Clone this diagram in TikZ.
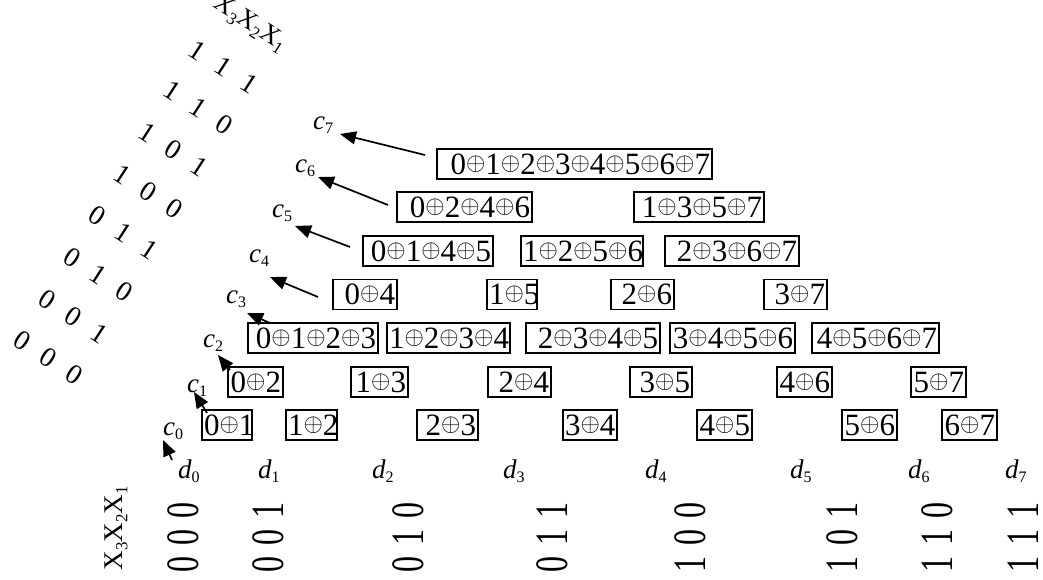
\documentclass[tikz,border=0pt]{standalone}
\usepackage{fontspec}
\setmainfont{Liberation Serif}
\usepackage{graphicx}
\usetikzlibrary{arrows.meta}
\newcommand\xo{\raisebox{3.8pt}{\fontsize{27}{27}\selectfont$\oplus$}}
\newcommand\cl[1]{{\itshape c}\raisebox{-4pt}{\fontsize{16}{16}\selectfont #1}}
\newcommand\dl[1]{{\itshape d}\raisebox{-4pt}{\fontsize{16}{16}\selectfont #1}}
\newcommand\xl[1]{X\raisebox{-5pt}{\fontsize{17}{17}\selectfont #1}}
\newcommand\tri[3]{#1\hspace{17pt}#2\hspace{17pt}#3}
\newcommand\col[3]{\scalebox{1}[1.45]{#1\hspace{11pt}#2\hspace{11pt}#3}}
\newcommand\bxn[5]{\pgfmathsetmacro\tw{#3-#2-4}\node[bx,text width=\tw pt] (#1) at (#2,#4) {#5};}
\tikzset{
  bx/.style={draw, line width=1.1pt, inner xsep=2pt, inner ysep=0pt, outer sep=0pt,
    minimum height=30pt, anchor=west, align=right, font=\fontsize{31}{31}\selectfont},
  arr/.style={line width=1.7pt, -{Triangle[length=16pt,width=13pt]}},
  lab/.style={anchor=base west, inner sep=0pt, font=\fontsize{27}{27}\selectfont},
  diag/.style={rotate=-33, inner sep=0pt, font=\fontsize{28}{28}\selectfont},
  colm/.style={rotate=90, inner sep=0pt, font=\fontsize{32}{32}\selectfont}
}
\begin{document}
\begin{tikzpicture}[x=1pt,y=-1pt]
\useasboundingbox (0,0) rectangle (1043,580);
% boxes row 1
\bxn{a01}{202}{252}{425}{0\xo1}
\bxn{a12}{286}{337}{425}{1\xo2}
\bxn{a23}{417}{478}{425}{2\xo3}
\bxn{a34}{563}{617}{425}{3\xo4}
\bxn{a45}{697}{752}{425}{4\xo5}
\bxn{a56}{842}{897}{425}{5\xo6}
\bxn{a67}{942}{997}{425}{6\xo7}
% row 2
\bxn{b02}{228}{283}{382}{0\xo2}
\bxn{b13}{351}{408}{382}{1\xo3}
\bxn{b24}{488}{551}{382}{2\xo4}
\bxn{b35}{630}{692}{382}{3\xo5}
\bxn{b46}{777}{832}{382}{4\xo6}
\bxn{b57}{911}{966}{382}{5\xo7}
% row 3
\bxn{e0}{248}{378}{338}{0\xo1\xo2\xo3}
\bxn{e1}{387}{510}{338}{1\xo2\xo3\xo4}
\bxn{e2}{526}{660}{338}{2\xo3\xo4\xo5}
\bxn{e3}{670}{795}{338}{3\xo4\xo5\xo6}
\bxn{e4}{812}{939}{338}{4\xo5\xo6\xo7}
% row 4
\bxn{f0}{333}{397}{294.5}{0\xo4}
\bxn{f1}{487}{537}{294.5}{1\xo5}
\bxn{f2}{611}{674}{294.5}{2\xo6}
\bxn{f3}{764}{827}{294.5}{3\xo7}
% row 5
\bxn{g0}{363}{493}{251}{0\xo1\xo4\xo5}
\bxn{g1}{521}{643}{251}{1\xo2\xo5\xo6}
\bxn{g2}{665}{799}{251}{2\xo3\xo6\xo7}
% row 6
\bxn{k0}{397}{532}{207}{0\xo2\xo4\xo6}
\bxn{k1}{634}{764}{207}{1\xo3\xo5\xo7}
% row 7
\bxn{m0}{437}{712}{164}{0\xo1\xo2\xo3\xo4\xo5\xo6\xo7}
% c labels
\node[lab] (c0) at (163,435) {\cl{0}};
\node[lab] (c1) at (187,392) {\cl{1}};
\node[lab] (c2) at (203,347) {\cl{2}};
\node[lab] (c3) at (226,303) {\cl{3}};
\node[lab] (c4) at (249,262) {\cl{4}};
\node[lab] (c5) at (272,217) {\cl{5}};
\node[lab] (c6) at (295,173) {\cl{6}};
\node[lab] (c7) at (313,130) {\cl{7}};
% arrows
\coordinate (t0) at (172,460); \coordinate (h0) at (163,440);
\coordinate (t1) at (207,413); \coordinate (h1) at (194,392);
\coordinate (t2) at (230,370); \coordinate (h2) at (218,355);
\coordinate (t3) at (270,323); \coordinate (h3) at (247,313);
\coordinate (t4) at (318,297); \coordinate (h4) at (270,277);
\coordinate (t5) at (350,247); \coordinate (h5) at (295,226);
\coordinate (t6) at (388,205); \coordinate (h6) at (318,177);
\coordinate (t7) at (425,155); \coordinate (h7) at (340,134);
\foreach \i in {0,...,7} {\draw[arr] (t\i) -- (h\i);}
% d labels
\node[lab] (d0) at (178,478) {\dl{0}};
\node[lab] (d1) at (258,478) {\dl{1}};
\node[lab] (d2) at (372,478) {\dl{2}};
\node[lab] (d3) at (503,478) {\dl{3}};
\node[lab] (d4) at (645,478) {\dl{4}};
\node[lab] (d5) at (790,478) {\dl{5}};
\node[lab] (d6) at (908,478) {\dl{6}};
\node[lab] (d7) at (1005,478) {\dl{7}};
% bottom binary columns
\node[colm] (v0) at (183,537) {\col000};
\node[colm] (v1) at (268,537) {\col001};
\node[colm] (v2) at (408,537) {\col010};
\node[colm] (v3) at (552,537) {\col011};
\node[colm] (v4) at (690,537) {\col100};
\node[colm] (v5) at (842,537) {\col101};
\node[colm] (v6) at (937,537) {\col110};
\node[colm] (v7) at (1023,537) {\col111};
\node[rotate=90, inner sep=0pt, font=\fontsize{27}{27}\selectfont] (vx) at (116,528) {\xl{3}\xl{2}\xl{1}};
% diagonal rows
\node[diag] (r7) at (223,67) {\tri111};
\node[diag] (r6) at (198,108) {\tri110};
\node[diag] (r5) at (173,150) {\tri101};
\node[diag] (r4) at (148,192) {\tri100};
\node[diag] (r3) at (123,233) {\tri011};
\node[diag] (r2) at (98,275) {\tri010};
\node[diag] (r1) at (73,317) {\tri001};
\node[diag] (r0) at (48,358) {\tri000};
\node[diag, font=\fontsize{26}{26}\selectfont] (rx) at (250,24) {\xl{3}\xl{2}\xl{1}};
\end{tikzpicture}
\end{document}
